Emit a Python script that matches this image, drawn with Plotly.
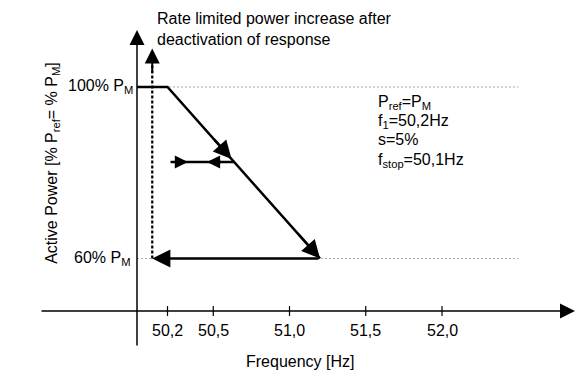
import plotly.graph_objects as go

# ---------------- data ----------------
freq_ticks = [50.2, 50.5, 51.0, 51.5, 52.0]
freq_tick_labels = ["50,2", "50,5", "51,0", "51,5", "52,0"]
power_levels = [100, 60]
power_labels = ["100% P<sub>M</sub>", "60% P<sub>M</sub>"]
response_freq = [50.0, 50.2, 51.2]          # P = 100% until f1, then droop s=5% down to 60%
response_power = [100, 100, 60]
return_freq = [51.2, 50.1]                   # return at 60% down to f_stop
return_power = [60, 60]
stop_freq = [50.1, 50.1]                     # rate limited increase after deactivation
stop_power = [60, 109.0]
hyst_freq = [50.22, 50.64]                   # small hysteresis arrows
hyst_power = [82.5, 82.5]
params_text = ["P<sub>ref</sub>=P<sub>M</sub>", "f<sub>1</sub>=50,2Hz", "s=5%", "f<sub>stop</sub>=50,1Hz"]

# axis geometry (broken power axis)
x_range = [49.1016, 52.9443]
y_range = [33.06, 120.29]
freq_axis_power = 47.75
freq_axis_span = [49.364, 52.872]
power_axis_freq = 50.0
power_axis_span = [39.36, 113.3]
ref_line_end = 52.5

FONT = "Liberation Sans, Arial, sans-serif"
fs = 16

fig = go.Figure()

# grey dotted reference lines
for p in power_levels:
    fig.add_trace(go.Scatter(x=[power_axis_freq, ref_line_end], y=[p, p], mode="lines",
                             line=dict(color="#a8a8a8", width=1, dash="2px,2px"),
                             hoverinfo="skip", showlegend=False))

# response curve
fig.add_trace(go.Scatter(x=response_freq, y=response_power, mode="lines",
                         line=dict(color="black", width=2.5), showlegend=False))
# dotted vertical rate-limited increase
fig.add_trace(go.Scatter(x=stop_freq, y=[stop_power[0], stop_power[1] - 3], mode="lines",
                         line=dict(color="black", width=2.2, dash="3px,2px"), showlegend=False))
# hysteresis line
fig.add_trace(go.Scatter(x=hyst_freq, y=hyst_power, mode="lines",
                         line=dict(color="black", width=2.5), showlegend=False))
# tick marks
fig.add_trace(go.Scatter(x=freq_ticks, y=[freq_axis_power] * len(freq_ticks), mode="markers",
                         marker=dict(symbol="line-ns", size=7, line=dict(color="black", width=1.2)),
                         showlegend=False))

ann = []

def arrow(x, y, ax, ay, width, size, head):
    ann.append(dict(x=x, y=y, ax=ax, ay=ay, xref="x", yref="y", axref="x", ayref="y",
                    text="", showarrow=True, arrowhead=head, arrowsize=size,
                    arrowwidth=width, arrowcolor="black", standoff=0, startstandoff=0))

# axes
arrow(freq_axis_span[1], freq_axis_power, freq_axis_span[0], freq_axis_power, 1.5, 2.0, 2)
arrow(power_axis_freq, power_axis_span[1], power_axis_freq, power_axis_span[0], 1.5, 2.0, 2)
# arrow heads on curves
arrow(response_freq[2], response_power[2], 51.05, 66, 2.5, 1.45, 2)
arrow(50.62, 100 - (50.62 - 50.2) * 40, 50.5, 100 - (50.5 - 50.2) * 40, 2.5, 1.45, 2)
arrow(return_freq[1], return_power[1], return_freq[0], return_power[0], 2.5, 1.45, 2)
arrow(stop_freq[1], stop_power[1], stop_freq[1], stop_power[1] - 6, 2, 1.5, 2)
arrow(50.334, hyst_power[0], 50.24, hyst_power[0], 2.5, 1.05, 2)
arrow(50.459, hyst_power[0], 50.56, hyst_power[0], 2.5, 1.05, 2)

# tick labels
for f, t in zip(freq_ticks, freq_tick_labels):
    ann.append(dict(x=f, y=43.3, xref="x", yref="y", text=t, showarrow=False,
                    xanchor="center", yanchor="middle", font=dict(size=fs, color="black", family=FONT)))
# power labels
for p, t, xf in zip(power_levels, power_labels, [49.985, 49.967]):
    ann.append(dict(x=xf, y=p, xref="x", yref="y", text=t, showarrow=False,
                    xanchor="right", yanchor="middle", font=dict(size=fs, color="black", family=FONT)))
# axis titles
ann.append(dict(x=51.07, y=36.0, xref="x", yref="y", text="Frequency [Hz]", showarrow=False,
                xanchor="center", yanchor="middle", font=dict(size=fs, color="black", family=FONT)))
ann.append(dict(x=49.449, y=82.3, xref="x", yref="y",
                text="Active Power [% P<sub>ref</sub>= % P<sub>M</sub>]", showarrow=False, textangle=-90,
                xanchor="center", yanchor="middle", font=dict(size=fs, color="black", family=FONT)))
# top note
ann.append(dict(x=50.118, y=113.6, xref="x", yref="y",
                text="Rate limited power increase after<br>deactivation of response", showarrow=False,
                xanchor="left", yanchor="middle", align="left", font=dict(size=fs, color="black", family=FONT)))
# parameter block
for t, p in zip(params_text, [96.27, 91.84, 87.64, 82.97]):
    ann.append(dict(x=51.567, y=p, xref="x", yref="y", text=t, showarrow=False,
                    xanchor="left", yanchor="middle", font=dict(size=fs, color="black", family=FONT)))

fig.update_layout(
    width=586, height=374, margin=dict(l=0, r=0, t=0, b=0),
    paper_bgcolor="white", plot_bgcolor="white",
    xaxis=dict(range=x_range, visible=False, fixedrange=True),
    yaxis=dict(range=y_range, visible=False, fixedrange=True),
    annotations=ann, showlegend=False,
)
fig.write_html("out.html", config={"displayModeBar": False},
               post_script="document.body.style.margin='0';document.body.style.overflow='hidden';")
